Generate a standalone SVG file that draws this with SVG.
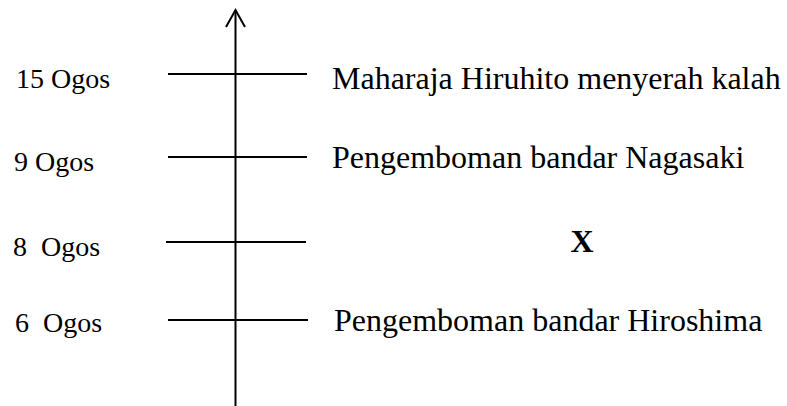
<svg xmlns="http://www.w3.org/2000/svg" width="787" height="406" viewBox="0 0 787 406">
<style>
.lbl{font-family:"Liberation Serif","Times New Roman",serif;font-size:28px;fill:#000}
.ev{font-family:"Liberation Serif","Times New Roman",serif;font-size:32px;fill:#000}
.bold{font-weight:bold}
.tick{stroke:#000;stroke-width:2;fill:none}
.axis{stroke:#000;stroke-width:2;fill:none}
</style>
<rect width="787" height="406" fill="#fff"/>
<g id="connectors">
<line class="axis" x1="235.5" y1="406" x2="235.5" y2="10"/>
<polyline class="axis" points="226,27 235.5,10 245,27"/>
</g>
<g id="node-15ogos">
<line class="tick" x1="168" y1="74" x2="307" y2="74"/>
<text class="lbl" x="16" y="88" xml:space="preserve">15 Ogos</text>
<text class="ev" x="332" y="89">Maharaja Hiruhito menyerah kalah</text>
</g>
<g id="node-9ogos">
<line class="tick" x1="168" y1="157" x2="307" y2="157"/>
<text class="lbl" x="14" y="171" xml:space="preserve">9 Ogos</text>
<text class="ev" x="332" y="168">Pengemboman bandar Nagasaki</text>
</g>
<g id="node-8ogos">
<line class="tick" x1="166" y1="242" x2="306" y2="242"/>
<text class="lbl" x="13" y="256" xml:space="preserve">8  Ogos</text>
<text class="ev bold" x="582" y="252" text-anchor="middle">X</text>
</g>
<g id="node-6ogos">
<line class="tick" x1="168" y1="320" x2="308" y2="320"/>
<text class="lbl" x="15" y="332" xml:space="preserve">6  Ogos</text>
<text class="ev" x="334" y="331">Pengemboman bandar Hiroshima</text>
</g>
</svg>
